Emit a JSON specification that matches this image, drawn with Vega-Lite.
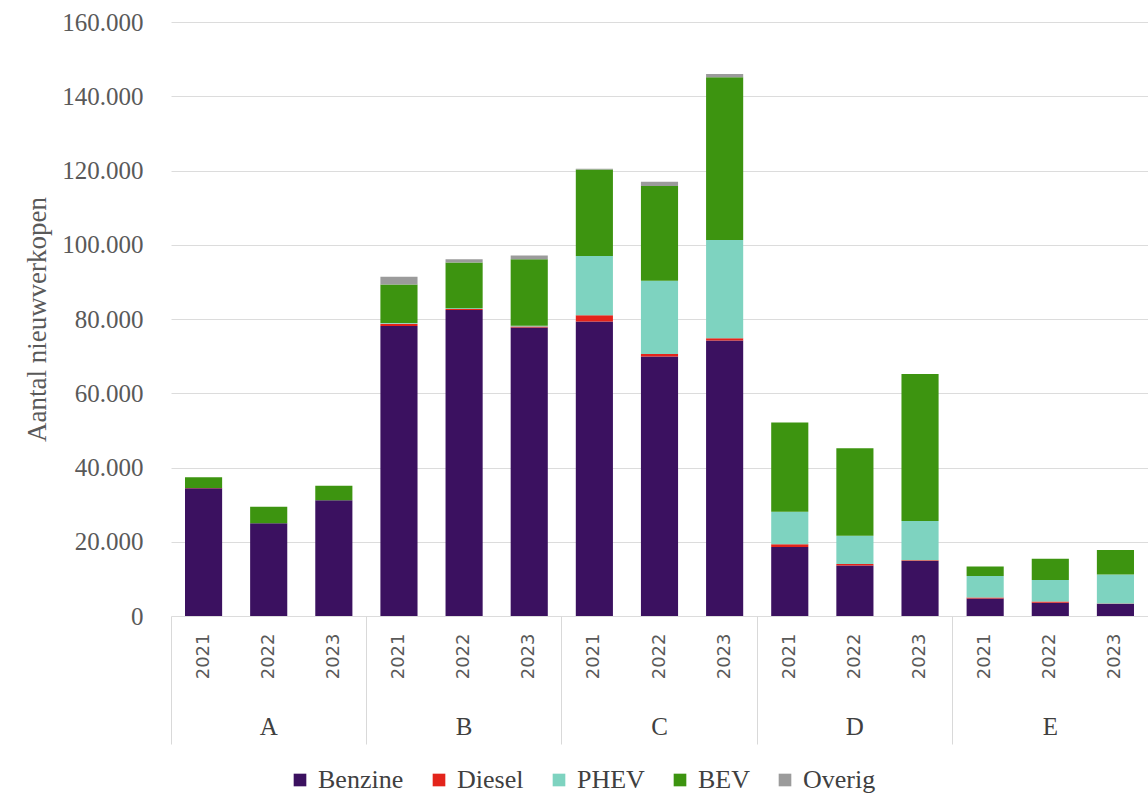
{
  "$schema": "https://vega.github.io/schema/vega-lite/v6.json",
  "width": 977,
  "height": 594,
  "autosize": {"type": "none"},
  "padding": {"left": 171, "top": 22, "right": 0, "bottom": 182},
  "background": "white",
  "config": {"view": {"stroke": null}},
  "data": {"values": [
    {"key": "A-2021", "type": "Benzine", "o": 1, "value": 34400},
    {"key": "A-2021", "type": "Diesel", "o": 2, "value": 100},
    {"key": "A-2021", "type": "PHEV", "o": 3, "value": 0},
    {"key": "A-2021", "type": "BEV", "o": 4, "value": 2900},
    {"key": "A-2021", "type": "Overig", "o": 5, "value": 0},
    {"key": "A-2022", "type": "Benzine", "o": 1, "value": 25000},
    {"key": "A-2022", "type": "Diesel", "o": 2, "value": 0},
    {"key": "A-2022", "type": "PHEV", "o": 3, "value": 0},
    {"key": "A-2022", "type": "BEV", "o": 4, "value": 4400},
    {"key": "A-2022", "type": "Overig", "o": 5, "value": 0},
    {"key": "A-2023", "type": "Benzine", "o": 1, "value": 31200},
    {"key": "A-2023", "type": "Diesel", "o": 2, "value": 0},
    {"key": "A-2023", "type": "PHEV", "o": 3, "value": 0},
    {"key": "A-2023", "type": "BEV", "o": 4, "value": 3900},
    {"key": "A-2023", "type": "Overig", "o": 5, "value": 0},
    {"key": "B-2021", "type": "Benzine", "o": 1, "value": 78100},
    {"key": "B-2021", "type": "Diesel", "o": 2, "value": 600},
    {"key": "B-2021", "type": "PHEV", "o": 3, "value": 200},
    {"key": "B-2021", "type": "BEV", "o": 4, "value": 10400},
    {"key": "B-2021", "type": "Overig", "o": 5, "value": 2100},
    {"key": "B-2022", "type": "Benzine", "o": 1, "value": 82400},
    {"key": "B-2022", "type": "Diesel", "o": 2, "value": 300},
    {"key": "B-2022", "type": "PHEV", "o": 3, "value": 200},
    {"key": "B-2022", "type": "BEV", "o": 4, "value": 12300},
    {"key": "B-2022", "type": "Overig", "o": 5, "value": 900},
    {"key": "B-2023", "type": "Benzine", "o": 1, "value": 77700},
    {"key": "B-2023", "type": "Diesel", "o": 2, "value": 300},
    {"key": "B-2023", "type": "PHEV", "o": 3, "value": 200},
    {"key": "B-2023", "type": "BEV", "o": 4, "value": 17900},
    {"key": "B-2023", "type": "Overig", "o": 5, "value": 1000},
    {"key": "C-2021", "type": "Benzine", "o": 1, "value": 79300},
    {"key": "C-2021", "type": "Diesel", "o": 2, "value": 1700},
    {"key": "C-2021", "type": "PHEV", "o": 3, "value": 16000},
    {"key": "C-2021", "type": "BEV", "o": 4, "value": 23300},
    {"key": "C-2021", "type": "Overig", "o": 5, "value": 200},
    {"key": "C-2022", "type": "Benzine", "o": 1, "value": 69900},
    {"key": "C-2022", "type": "Diesel", "o": 2, "value": 700},
    {"key": "C-2022", "type": "PHEV", "o": 3, "value": 19700},
    {"key": "C-2022", "type": "BEV", "o": 4, "value": 25500},
    {"key": "C-2022", "type": "Overig", "o": 5, "value": 1200},
    {"key": "C-2023", "type": "Benzine", "o": 1, "value": 74200},
    {"key": "C-2023", "type": "Diesel", "o": 2, "value": 600},
    {"key": "C-2023", "type": "PHEV", "o": 3, "value": 26500},
    {"key": "C-2023", "type": "BEV", "o": 4, "value": 43800},
    {"key": "C-2023", "type": "Overig", "o": 5, "value": 900},
    {"key": "D-2021", "type": "Benzine", "o": 1, "value": 18600},
    {"key": "D-2021", "type": "Diesel", "o": 2, "value": 700},
    {"key": "D-2021", "type": "PHEV", "o": 3, "value": 8800},
    {"key": "D-2021", "type": "BEV", "o": 4, "value": 24000},
    {"key": "D-2021", "type": "Overig", "o": 5, "value": 0},
    {"key": "D-2022", "type": "Benzine", "o": 1, "value": 13600},
    {"key": "D-2022", "type": "Diesel", "o": 2, "value": 400},
    {"key": "D-2022", "type": "PHEV", "o": 3, "value": 7600},
    {"key": "D-2022", "type": "BEV", "o": 4, "value": 23600},
    {"key": "D-2022", "type": "Overig", "o": 5, "value": 0},
    {"key": "D-2023", "type": "Benzine", "o": 1, "value": 14800},
    {"key": "D-2023", "type": "Diesel", "o": 2, "value": 200},
    {"key": "D-2023", "type": "PHEV", "o": 3, "value": 10600},
    {"key": "D-2023", "type": "BEV", "o": 4, "value": 39600},
    {"key": "D-2023", "type": "Overig", "o": 5, "value": 0},
    {"key": "E-2021", "type": "Benzine", "o": 1, "value": 4700},
    {"key": "E-2021", "type": "Diesel", "o": 2, "value": 300},
    {"key": "E-2021", "type": "PHEV", "o": 3, "value": 5800},
    {"key": "E-2021", "type": "BEV", "o": 4, "value": 2500},
    {"key": "E-2021", "type": "Overig", "o": 5, "value": 0},
    {"key": "E-2022", "type": "Benzine", "o": 1, "value": 3600},
    {"key": "E-2022", "type": "Diesel", "o": 2, "value": 300},
    {"key": "E-2022", "type": "PHEV", "o": 3, "value": 5800},
    {"key": "E-2022", "type": "BEV", "o": 4, "value": 5700},
    {"key": "E-2022", "type": "Overig", "o": 5, "value": 0},
    {"key": "E-2023", "type": "Benzine", "o": 1, "value": 3300},
    {"key": "E-2023", "type": "Diesel", "o": 2, "value": 100},
    {"key": "E-2023", "type": "PHEV", "o": 3, "value": 7800},
    {"key": "E-2023", "type": "BEV", "o": 4, "value": 6600},
    {"key": "E-2023", "type": "Overig", "o": 5, "value": 0}
  ]},
  "layer": [
    {
      "mark": {"type": "bar"},
      "encoding": {
        "x": {
          "field": "key", "type": "nominal",
          "scale": {"paddingInner": 0.43, "paddingOuter": 0.215},
          "axis": {
            "orient": "bottom", "title": null, "domain": false, "ticks": false, "grid": false,
            "labelExpr": "slice(datum.value, 2)", "labelAngle": 270, "labelAlign": "right", "labelBaseline": "middle",
            "labelPadding": 17, "labelFont": "DejaVu Sans", "labelFontSize": 18, "labelColor": "#595959", "labelOverlap": false
          }
        },
        "y": {
          "field": "value", "type": "quantitative", "stack": "zero",
          "scale": {"domain": [0, 160000], "nice": false},
          "axis": {
            "title": "Aantal nieuwverkopen", "titleFont": "Liberation Serif", "titleFontSize": 27, "titleFontWeight": "normal",
            "titleColor": "#595959", "titlePadding": 10,
            "values": [0, 20000, 40000, 60000, 80000, 100000, 120000, 140000, 160000],
            "labelExpr": "replace(format(datum.value, ',d'), ',', '.')",
            "labelFont": "Liberation Serif", "labelFontSize": 25, "labelColor": "#595959", "labelPadding": 28,
            "domain": false, "ticks": false, "grid": true, "gridColor": "#dcdcdc", "gridWidth": 1
          }
        },
        "color": {
          "field": "type", "type": "nominal",
          "scale": {"domain": ["Benzine", "Diesel", "PHEV", "BEV", "Overig"], "range": ["#3b1160", "#e3241b", "#7ed3c0", "#3d9410", "#9b9b9b"]},
          "legend": {
            "title": null, "orient": "none", "direction": "horizontal", "legendX": 116, "legendY": 745,
            "symbolType": "square", "symbolSize": 160, "symbolStrokeWidth": 0, "labelFont": "Liberation Serif",
            "labelFontSize": 26, "labelColor": "#404040", "columnPadding": 22, "labelOffset": 5, "padding": 0
          }
        },
        "order": {"field": "o", "type": "quantitative"}
      }
    },
    {
      "mark": {"type": "bar", "opacity": 0},
      "encoding": {
        "x": {
          "field": "key", "type": "nominal",
          "axis": {
            "orient": "bottom", "title": null, "domain": false, "labels": false, "grid": false,
            "values": ["A-2021", "B-2021", "C-2021", "D-2021", "E-2021"],
            "bandPosition": -0.377, "ticks": true, "tickSize": 128, "tickColor": "#d9d9d9", "tickWidth": 1
          }
        }
      }
    },
    {
      "mark": {"type": "bar", "opacity": 0},
      "encoding": {
        "x": {
          "field": "key", "type": "nominal",
          "axis": {
            "orient": "bottom", "title": null, "domain": false, "ticks": false, "grid": false,
            "values": ["A-2022", "B-2022", "C-2022", "D-2022", "E-2022"],
            "labelExpr": "slice(datum.value, 0, 1)", "labelAngle": 0, "labelAlign": "center", "labelBaseline": "top",
            "labelPadding": 98, "labelFont": "Liberation Serif", "labelFontSize": 25, "labelColor": "#404040", "labelOverlap": false
          }
        }
      }
    }
  ],
  "resolve": {"axis": {"x": "independent"}}
}
